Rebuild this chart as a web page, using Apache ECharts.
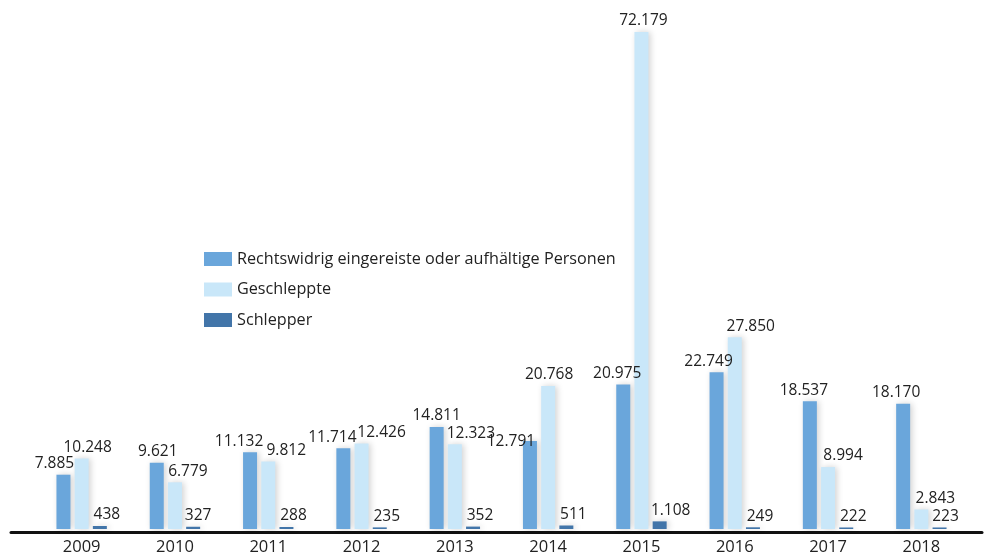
<!DOCTYPE html>
<html><head><meta charset="utf-8">
<script src="https://cdn.jsdelivr.net/npm/echarts@6/dist/echarts.min.js"></script>
<style>html,body{margin:0;padding:0;background:#fff}#c{width:984px;height:556px}</style>
</head><body><div id="c"></div>
<script>
const years = ['2009','2010','2011','2012','2013','2014','2015','2016','2017','2018'];
const seriesNames = ['Rechtswidrig eingereiste oder aufhältige Personen','Geschleppte','Schlepper'];
const rechtswidrig = [7885, 9621, 11132, 11714, 14811, 12791, 20975, 22749, 18537, 18170];
const geschleppte = [10248, 6779, 9812, 12426, 12323, 20768, 72179, 27850, 8994, 2843];
const schlepper = [438, 327, 288, 235, 352, 511, 1108, 249, 222, 223];

// label nudges (layout only)
const labelDx = [
  [-9, 1, -11, -11, 0, -19, -6, -8, -6, -7],
  [6, 13, 18, 20, 16, 1, 2, 16, 15, 14],
  [7, 5, 7, 7, 7, 7, 11, 7, 7, 6]
];
const labelDy = [
  [0, 0, 0, 0, 0, 12, 0, 0, 0, 0],
  [0, 0, 0, 0, 0, 0, 0, 0, 0, 0],
  [0, 0, 0, 0, 0, 0, 0, 0, 0, 0]
];
const colors = ['#6aa6db', '#c9e7f9', '#4275a9'];
const font = '"Open Sans", "Noto Sans", sans-serif';
const fmt = v => v.toLocaleString('de-DE');

const chart = echarts.init(document.getElementById('c'));
function mk(name, data, i) {
  return {
    name, type: 'bar', barWidth: 14, barGap: '30%',
    data: data.map((v, j) => ({ value: v, label: { offset: [labelDx[i][j], labelDy[i][j]] } })),
    itemStyle: { color: colors[i], shadowBlur: 6, shadowColor: 'rgba(0,0,0,0.18)', shadowOffsetX: 2 },
    label: { show: true, position: 'top', distance: 3,
      color: '#222', fontSize: 15.5, fontFamily: font, formatter: p => fmt(p.value) }
  };
}
chart.setOption({
  animation: false,
  legend: {
    orient: 'vertical', left: 199, top: 246, itemWidth: 28, itemHeight: 14, itemGap: 14.5,
    icon: 'rect', textStyle: { fontSize: 16.2, color: '#222', fontFamily: font },
    data: seriesNames
  },
  grid: [
    { left: 35, right: 16, top: 12.5, bottom: 25 },
    { left: 11, right: 2, top: 12.5, bottom: 24 }
  ],
  xAxis: [
    { type: 'category', data: years, gridIndex: 0,
      axisLine: { show: false }, axisTick: { show: false },
      axisLabel: { fontSize: 16.5, color: '#222', fontFamily: font, margin: 10 } },
    { type: 'category', data: [''], gridIndex: 1,
      axisLine: { show: true, lineStyle: { color: '#111', width: 3 } },
      axisTick: { show: false }, axisLabel: { show: false } }
  ],
  yAxis: [
    { type: 'value', min: 0, max: 75000, gridIndex: 0, show: false, splitLine: { show: false } },
    { type: 'value', gridIndex: 1, show: false, splitLine: { show: false } }
  ],
  series: [
    mk(seriesNames[0], rechtswidrig, 0),
    mk(seriesNames[1], geschleppte, 1),
    mk(seriesNames[2], schlepper, 2)
  ]
});
</script></body></html>
